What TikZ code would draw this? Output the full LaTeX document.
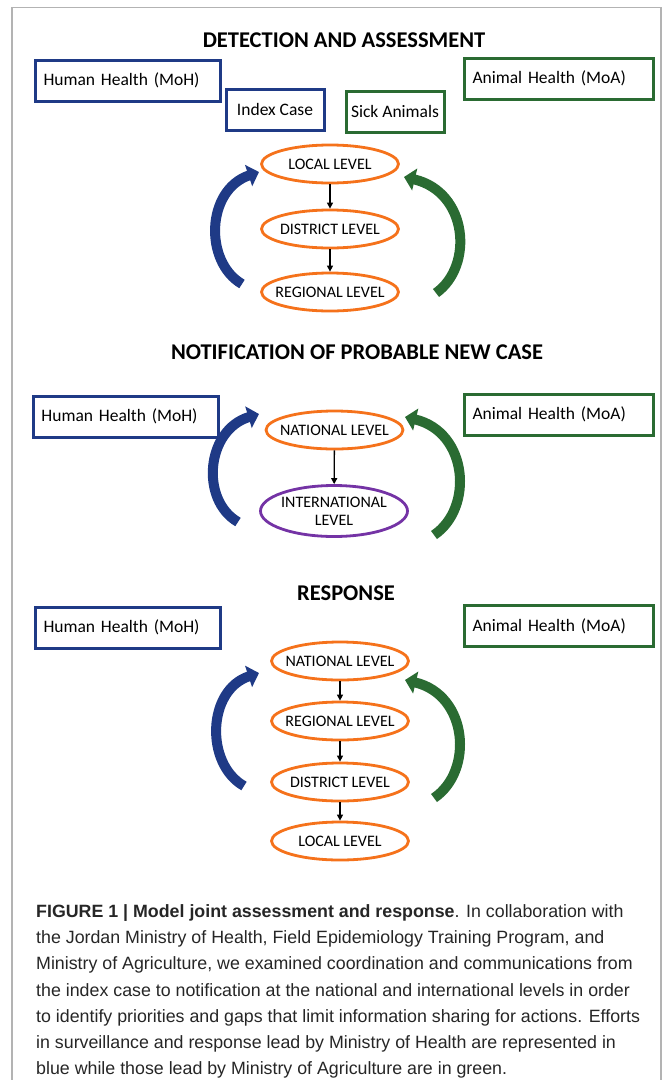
\documentclass[tikz,border=0pt]{standalone}
\usepackage{fontspec}
\setmainfont{Carlito}
\newfontfamily\capfont{Liberation Sans}
\usepackage{tkz-euclide}
\usetikzlibrary{calc}
\usetikzlibrary{positioning}
\usetikzlibrary{shapes.geometric}
\usetikzlibrary{arrows.meta}

\definecolor{mohblue}{HTML}{1F3A86}
\definecolor{moagreen}{HTML}{2A6B32}
\definecolor{lvlorange}{HTML}{F5721B}
\definecolor{intpurple}{HTML}{7433A5}
\definecolor{framegray}{HTML}{B3B3B3}

\tikzset{
  heading/.style={font=\fontsize{22.5}{22.5}\selectfont\bfseries},
  mohbox/.style={draw=mohblue, line width=3pt, minimum height=41pt,
    inner xsep=8pt, align=left, font=\fontsize{17.5}{19}\selectfont},
  moabox/.style={mohbox, draw=moagreen},
  smallbox/.style={draw=#1, line width=3pt, minimum height=41pt,
    minimum width=98pt, font=\fontsize{17.5}{19}\selectfont},
  level/.style={ellipse, draw=lvlorange, line width=2.8pt, minimum width=137pt,
    minimum height=38pt, inner xsep=-25pt, inner ysep=0pt, align=center,
    font=\fontsize{16}{18}\selectfont},
  down/.style={-{Triangle[length=6pt,width=6pt]}, line width=1.3pt},
  mohflow/.style={draw=mohblue, line width=10pt, -{Triangle[length=11pt,width=22pt]}},
  moaflow/.style={mohflow, draw=moagreen}
}

\begin{document}
\begin{tikzpicture}[x=1pt, y=-1pt]
      \useasboundingbox (0,0) rectangle (665,1080);
      \draw[framegray, line width=1.4pt] (12,1085) -- (12,7.5) -- (661,7.5) -- (661,1085);

      \tkzDefPoints{242/284/Hs1, 259/172/He1, 436/293/Gs1, 404/177/Ge1,
        238/522/Hs2, 259/414/He2, 434/535/Gs2, 405/417/Ge2,
        244/786/Hs3, 259/673/He3, 434/798/Gs3, 405/680/Ge3}

      % detection and assessment
      \node[heading] (title1) at (344,40) {DETECTION AND ASSESSMENT};
      \node[mohbox, text width=169pt] (moh1) at (128,80.5) {Human Health (MoH)};
      \node[moabox, text width=173pt] (moa1) at (559,78.5) {Animal Health (MoA)};
      \node[smallbox=mohblue] (index1) at (275,109.5) {Index Case};
      \node[smallbox=moagreen] (sick1) at (395,111.5) {Sick Animals};
      \node[level] (local1) at (330,164) {LOCAL LEVEL};
      \node[level] (district1) at (330,229) {DISTRICT LEVEL};
      \node[level] (regional1) at (330,292) {REGIONAL LEVEL};
      \draw[down] (local1) -- (district1);
      \draw[down] (district1) -- (regional1);
      \draw[mohflow] (Hs1) .. controls (204,262) and (206,190) .. (He1);
      \draw[moaflow] (Gs1) .. controls (474,266) and (468,192) .. (Ge1);

      % notification
      \node[heading] (title2) at (357,352) {NOTIFICATION OF PROBABLE NEW CASE};
      \node[mohbox, text width=169pt] (moh2) at (126,416.5) {Human Health (MoH)};
      \node[moabox, text width=173pt] (moa2) at (559,414.5) {Animal Health (MoA)};
      \node[level] (national2) at (334.5,430) {NATIONAL LEVEL};
      \node[level, draw=intpurple, minimum width=147pt, minimum height=51pt] (international2) at (334,511) {INTERNATIONAL\\LEVEL};
      \draw[down] (national2) -- (international2);
      \draw[mohflow] (Hs2) .. controls (200,500) and (206,430) .. (He2);
      \draw[moaflow] (Gs2) .. controls (474,508) and (468,432) .. (Ge2);

      % response
      \node[heading] (title3) at (346,593) {RESPONSE};
      \node[mohbox, text width=169pt] (moh3) at (128,627.5) {Human Health (MoH)};
      \node[moabox, text width=173pt] (moa3) at (559,626) {Animal Health (MoA)};
      \node[level] (national3) at (340,661) {NATIONAL LEVEL};
      \node[level] (regional3) at (340,721) {REGIONAL LEVEL};
      \node[level] (district3) at (340,782) {DISTRICT LEVEL};
      \node[level] (local3) at (340,841) {LOCAL LEVEL};
      \draw[down] (national3) -- (regional3);
      \draw[down] (regional3) -- (district3);
      \draw[down] (district3) -- (local3);
      \draw[mohflow] (Hs3) .. controls (205,764) and (207,690) .. (He3);
      \draw[moaflow] (Gs3) .. controls (474,771) and (468,695) .. (Ge3);

      \node[anchor=north west, align=left, inner sep=0pt, text=black!85,
        font=\capfont\fontsize{17.8}{26.3}\selectfont] (caption) at (36,904)
        {\textbf{FIGURE 1 | Model joint assessment and response}. In collaboration with\\
        the Jordan Ministry of Health, Field Epidemiology Training Program, and\\
        Ministry of Agriculture, we examined coordination and communications from\\
        the index case to notification at the national and international levels in order\\
        to identify priorities and gaps that limit information sharing for actions. Efforts\\
        in surveillance and response lead by Ministry of Health are represented in\\
        blue while those lead by Ministry of Agriculture are in green.};
    \end{tikzpicture}
\end{document}
